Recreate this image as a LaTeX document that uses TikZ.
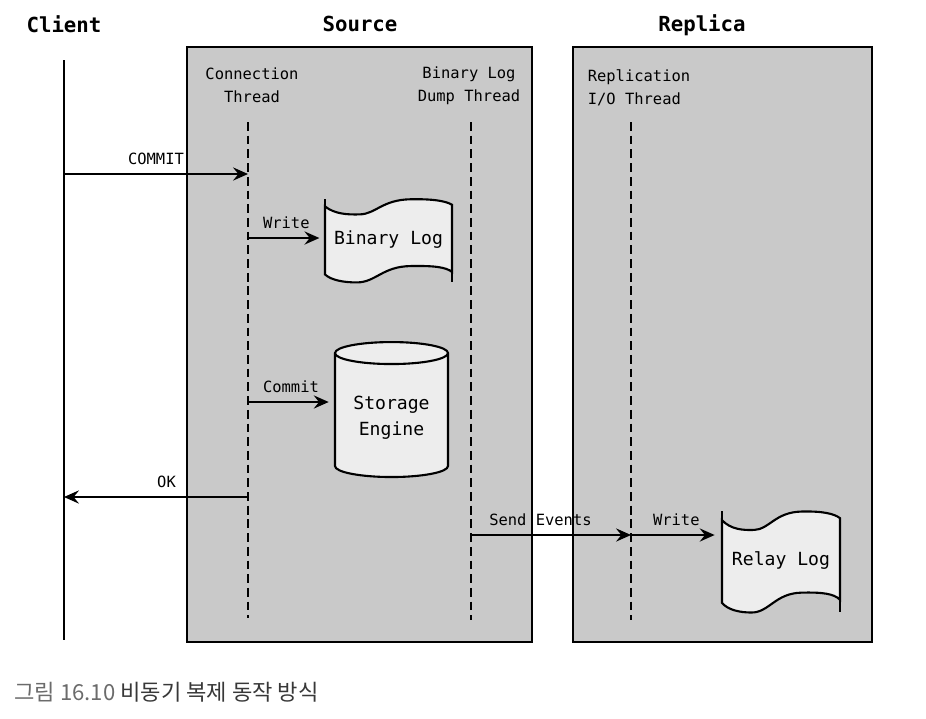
\documentclass[tikz,border=0pt]{standalone}
\usepackage{fontspec}
\setmonofont{DejaVu Sans Mono}
\newfontfamily\krfont{Noto Sans CJK KR}
\usetikzlibrary{shapes.geometric, arrows.meta, positioning}
\usepackage{xcolor}
\definecolor{hostgray}{gray}{0.79}
\definecolor{docgray}{gray}{0.93}
\definecolor{capgray}{gray}{0.42}

\tikzset{
	title/.style={font=\ttfamily\bfseries\fontsize{11.8}{13}\selectfont},
	lbl/.style={font=\ttfamily\fontsize{8.8}{13}\selectfont,align=center,inner sep=1pt},
	host/.style={rectangle,draw,line width=1.6pt,fill=hostgray},
	doctext/.style={font=\ttfamily\fontsize{10.3}{15}\selectfont,align=center},
	docline/.style={draw,line width=1.2pt,fill=docgray},
	lifeline/.style={line width=1.4pt,dash pattern=on 5pt off 2.8pt},
	msg/.style={line width=1.1pt,-{Stealth[length=8.5pt,width=7.5pt,inset=3pt]}},
}

% log file: name, x, y, half width, half height, text
\newcommand{\logdoc}[6]{
	\begin{scope}[shift={(#2,#3)},xscale=#4,yscale=#5]
		\path [docline] (-1,-0.8) .. controls (-0.85,-0.62) and (-0.65,-0.6) .. (-0.45,-0.61)
			.. controls (-0.2,-0.62) and (-0.1,-0.96) .. (0.35,-0.97)
			.. controls (0.7,-0.98) and (0.9,-0.93) .. (1,-0.84) -- (1,0.76)
			.. controls (0.9,0.64) and (0.7,0.61) .. (0.35,0.62)
			.. controls (-0.1,0.63) and (-0.2,1.01) .. (-0.5,1.01)
			.. controls (-0.7,1.01) and (-0.9,0.96) .. (-1,0.82) -- cycle;
		\draw [line width=1.2pt] (-1,-0.8) -- (-1,-0.98);
		\draw [line width=1.2pt] (1,0.76) -- (1,1);
	\end{scope}
	\node (#1) [doctext,minimum width=#4*0.04cm,minimum height=#5*0.04cm] at (#2,#3) {#6};
}

\begin{document}
\begin{tikzpicture}[x=0.02cm,y=-0.02cm]
				\useasboundingbox (0,0) rectangle (926,718);
				% hosts
				\node (src) [host,minimum width=6.9cm,minimum height=11.9cm] at (359.5,344.5) {};
				\node (rep) [host,minimum width=5.98cm,minimum height=11.9cm] at (722.5,344.5) {};
				\node (clientt) [title] at (64,24) {Client};
				\node (srct) [title] at (360,24) {Source};
				\node (rept) [title] at (702,25) {Replica};
				% thread names
				\node (connt) [lbl] at (252,85) {Connection\\Thread};
				\node (dumpt) [lbl] at (469,86) {Binary Log\\Dump Thread};
				\node (iot) [lbl,align=left] at (639,88) {Replication\\I/O Thread};
				% lifelines
				\coordinate (client top) at (64,60);
				\coordinate (client bot) at (64,640);
				\coordinate (conn top) at (248,122);
				\coordinate (conn bot) at (248,618);
				\coordinate (dump top) at (471,122);
				\coordinate (dump bot) at (471,620);
				\coordinate (io top) at (631,122);
				\coordinate (io bot) at (631,620);
				\draw [line width=1.3pt](client top) -- (client bot);
				\draw [lifeline](conn top) -- (conn bot);
				\draw [lifeline](dump top) -- (dump bot);
				\draw [lifeline](io top) -- (io bot);
				% storage
				\logdoc{blog}{388.5}{240}{63.5}{42}{Binary Log}
				\node (engine) [cylinder,shape border rotate=90,aspect=0.25,docline,minimum width=2.26cm,minimum height=2.7cm,doctext] at (391.5,418) {Storage\\Engine};
				\logdoc{rlog}{781}{561}{59}{51}{Relay Log}
				% messages
				\coordinate (client commit) at (64,174);
				\coordinate (conn commit) at (248,174);
				\coordinate (conn write) at (248,238);
				\coordinate (conn store) at (248,402);
				\coordinate (conn ok) at (248,497);
				\coordinate (client ok) at (64,497);
				\coordinate (dump send) at (471,535);
				\coordinate (io send) at (631,535);
				\draw [msg](client commit) -- node [lbl,midway,above=4pt] {COMMIT} (conn commit);
				\draw [msg,shorten >=3pt](conn write) -- node [lbl,midway,above=4pt] {Write} (conn write -| blog.west);
				\draw [msg,shorten >=3pt](conn store) -- node [lbl,midway,above=4pt] {Commit} (conn store -| engine.west);
				\draw [msg](conn ok) -- node [lbl,midway,above=4pt,xshift=6pt] {OK} (client ok);
				\draw [msg](dump send) -- node [lbl,midway,above=4pt,xshift=-6pt] {Send Events} (io send);
				\draw [msg,shorten >=4pt](io send) -- node [lbl,midway,above=4pt] {Write} (io send -| rlog.west);
				% caption
				\node (cap) [anchor=west,inner sep=0pt,font=\krfont\fontsize{12.6}{14}\selectfont] at (14,692) {\textcolor{capgray}{그림 16.10} \textcolor{black!78}{비동기 복제 동작 방식}};
			\end{tikzpicture}
\end{document}
